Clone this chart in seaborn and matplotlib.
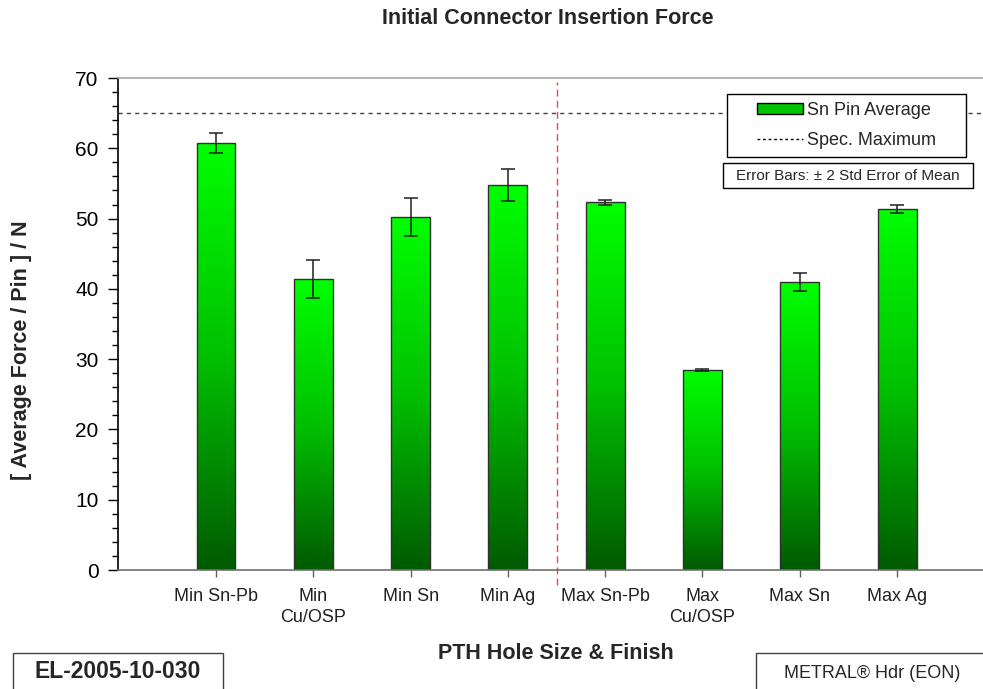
import numpy as np
import pandas as pd
import matplotlib
matplotlib.use("Agg")
import matplotlib.pyplot as plt
import seaborn as sns
from matplotlib.patches import Patch, Rectangle
from matplotlib.lines import Line2D
from matplotlib.colors import LinearSegmentedColormap
from matplotlib.ticker import MultipleLocator

# data
categories = ["Min Sn-Pb", "Min\nCu/OSP", "Min Sn", "Min Ag",
              "Max Sn-Pb", "Max\nCu/OSP", "Max Sn", "Max Ag"]
avg_force = [60.8, 41.4, 50.2, 54.8, 52.3, 28.5, 41.0, 51.4]
err_2se = [1.4, 2.65, 2.75, 2.3, 0.3, 0.15, 1.3, 0.6]
spec_max = 65.0
group_split = 3.5

W, H = 983, 689


def fx(px):
    return px / W


def fy(py):
    return 1 - py / H


def fig_box(fig, x0, y0, x1, y1, ec="black"):
    # rectangle given in pixel coords (top-left origin)
    r = Rectangle((fx(x0), fy(y1)), fx(x1) - fx(x0), fy(y0) - fy(y1),
                  transform=fig.transFigure, facecolor="white", edgecolor=ec,
                  lw=1, zorder=8, clip_on=False)
    fig.add_artist(r)


sns.set_theme(style="white")
plt.rcParams['font.family'] = ['Liberation Sans', 'DejaVu Sans']

df = pd.DataFrame({"finish": categories, "force": avg_force})

fig = plt.figure(figsize=(9.83, 6.89), dpi=100)
ax = fig.add_axes([fx(118), fy(570), fx(983) - fx(118), fy(78) - fy(570)])

sns.barplot(data=df, x="finish", y="force", ax=ax, width=0.4,
            color="#00ff00", edgecolor="#303030", linewidth=1.0,
            errorbar=None)

# vertical gradient fill for each bar, dark green at base to bright at top
cmap = LinearSegmentedColormap.from_list("grn", ["#005a00", "#00c000", "#00ff00"])
grad = np.linspace(0, 1, 256).reshape(-1, 1)
for p in ax.patches:
    x0, y0 = p.get_x(), p.get_y()
    w, h = p.get_width(), p.get_height()
    im = ax.imshow(grad, cmap=cmap, origin="lower", aspect="auto",
                   extent=[x0, x0 + w, y0, y0 + h], zorder=p.get_zorder())
    im.set_clip_path(p)
    p.set_facecolor("none")
    p.set_zorder(p.get_zorder() + 0.1)

centers = [p.get_x() + p.get_width() / 2 for p in ax.patches]
ax.errorbar(centers, avg_force, yerr=err_2se, fmt="none", ecolor="#202020",
            elinewidth=1.1, capsize=5, capthick=1.1, zorder=5)

ax.axhline(spec_max, color="#404040", lw=1, ls=(0, (3, 3)), zorder=1)
ax.plot([group_split, group_split], [-2.2, 69.5], color="#e8454a", lw=1,
        ls=(0, (5, 3)), clip_on=False, zorder=2)

ax.set_ylim(0, 70)
ax.set_xlim(-1.007, 7.883)
ax.yaxis.set_major_locator(MultipleLocator(10))
ax.yaxis.set_minor_locator(MultipleLocator(2))
ax.tick_params(axis="y", which="major", direction="out", length=7, width=1,
               color="black", labelsize=15, left=True, pad=7, labelcolor="black")
ax.tick_params(axis="y", which="minor", direction="out", length=4, width=1,
               color="black", left=True)
ax.tick_params(axis="x", direction="out", length=5, width=1, color="#606060",
               labelsize=13, bottom=True, pad=8, labelcolor="#202020")
ax.set_xticks(range(len(categories)))
ax.set_xticklabels(categories, linespacing=1.3)

ax.spines["left"].set_color("black")
ax.spines["bottom"].set_color("#707070")
ax.spines["top"].set_color("#a8a8a8")
ax.spines["right"].set_visible(False)
for s in ["left", "bottom", "top"]:
    ax.spines[s].set_linewidth(1.2)

ax.set_xlabel("PTH Hole Size & Finish", fontsize=15.5, fontweight="bold")
ax.xaxis.set_label_coords(0.506, -0.148)
ax.set_ylabel("[ Average Force / Pin ] / N", fontsize=15.5, fontweight="bold")
ax.yaxis.set_label_coords(-0.0995, 0.447)
fig.text(fx(548), fy(18), "Initial Connector Insertion Force", ha="center",
         va="center", fontsize=15.5, fontweight="bold")

# legend drawn inside a hand-placed frame
fig_box(fig, 727, 94, 966, 157)
handles = [Patch(facecolor="#00c400", edgecolor="black", label="Sn Pin Average"),
           Line2D([0], [0], color="black", lw=1, ls=(0, (2, 2)), label="Spec. Maximum")]
leg = fig.legend(handles=handles, loc="center",
                 bbox_to_anchor=(fx(846.5), fy(125.5)),
                 fontsize=13, frameon=False, handlelength=2.55, handleheight=0.55,
                 borderpad=0.0, labelspacing=0.7, handletextpad=0.25)
leg.set_zorder(9)

fig_box(fig, 723, 163, 973, 188)
fig.text(fx(848), fy(175.5), "Error Bars: \u00b1 2 Std Error of Mean", ha="center",
         va="center", fontsize=11, zorder=9)

# footer boxes
fig_box(fig, 13, 653, 223, 700, ec="#404040")
fig.text(fx(118), fy(671), "EL-2005-10-030", ha="center", va="center",
         fontsize=16.5, fontweight="bold", zorder=9)
fig_box(fig, 756, 653, 990, 700, ec="#404040")
fig.text(fx(872), fy(673), "METRAL\u00ae Hdr (EON)", ha="center", va="center",
         fontsize=13, zorder=9)

fig.savefig("out.png", dpi=100)
